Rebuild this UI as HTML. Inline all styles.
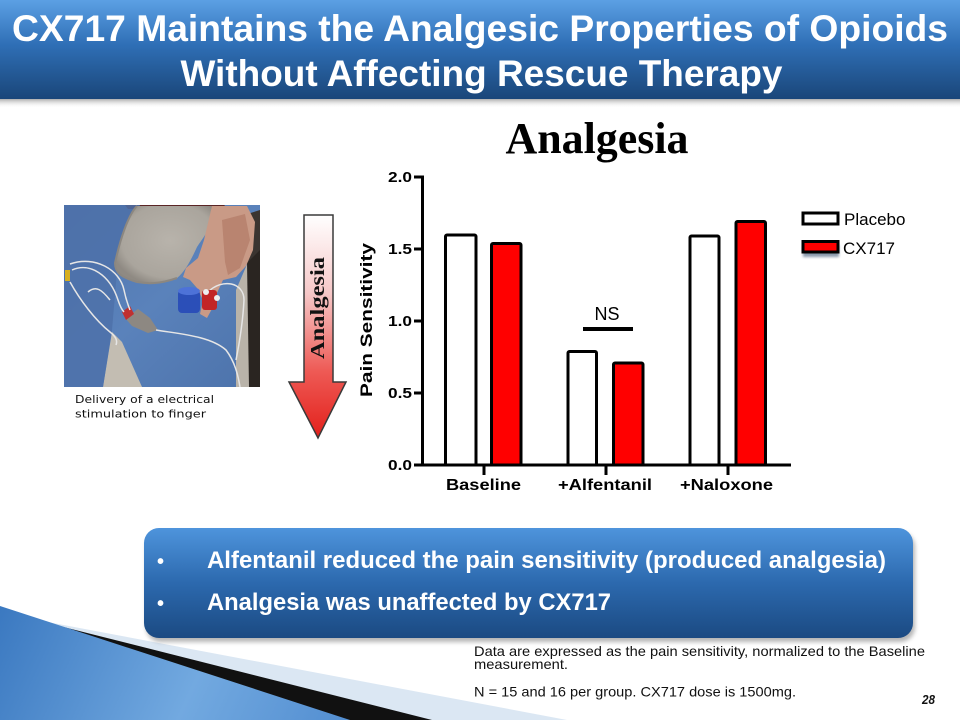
<!DOCTYPE html>
<html>
<head>
<meta charset="utf-8">
<style>
html,body{margin:0;padding:0;background:#fff;}
svg{display:block;}
</style>
</head>
<body>
<svg width="960" height="720" viewBox="0 0 960 720" xmlns="http://www.w3.org/2000/svg">
<defs>
  <linearGradient id="tbar" x1="0" y1="0" x2="0" y2="1">
    <stop offset="0" stop-color="#5ca0e4"/>
    <stop offset="0.45" stop-color="#2f6fb6"/>
    <stop offset="1" stop-color="#1a4679"/>
  </linearGradient>
  <linearGradient id="tshadow" x1="0" y1="0" x2="0" y2="1">
    <stop offset="0" stop-color="#9a9a9a" stop-opacity="0.8"/>
    <stop offset="1" stop-color="#ffffff" stop-opacity="0"/>
  </linearGradient>
  <linearGradient id="bbox" x1="0" y1="0" x2="0" y2="1">
    <stop offset="0" stop-color="#4e94dc"/>
    <stop offset="0.5" stop-color="#2c69ae"/>
    <stop offset="1" stop-color="#1b4a82"/>
  </linearGradient>
  <linearGradient id="deco" x1="0" y1="600" x2="350" y2="760" gradientUnits="userSpaceOnUse">
    <stop offset="0" stop-color="#3a78c0"/>
    <stop offset="0.55" stop-color="#72a9e0"/>
    <stop offset="1" stop-color="#4f8bcf"/>
  </linearGradient>
  <linearGradient id="arr" x1="0" y1="215" x2="0" y2="438" gradientUnits="userSpaceOnUse">
    <stop offset="0" stop-color="#ffffff"/>
    <stop offset="0.35" stop-color="#f6c8c8"/>
    <stop offset="0.7" stop-color="#ee5a55"/>
    <stop offset="1" stop-color="#e3201b"/>
  </linearGradient>
  <linearGradient id="denim" x1="0" y1="0" x2="1" y2="1">
    <stop offset="0" stop-color="#4f74ac"/>
    <stop offset="0.5" stop-color="#5a82bb"/>
    <stop offset="1" stop-color="#4c72aa"/>
  </linearGradient>
  <radialGradient id="padg" cx="0.55" cy="0.45" r="0.6">
    <stop offset="0" stop-color="#b8b3ab"/>
    <stop offset="0.8" stop-color="#aaa59d"/>
    <stop offset="1" stop-color="#8f8a83"/>
  </radialGradient>
  <filter id="blur2" x="-20%" y="-20%" width="140%" height="140%">
    <feGaussianBlur stdDeviation="2"/>
  </filter>
  <filter id="blur1" x="-20%" y="-50%" width="140%" height="200%">
    <feGaussianBlur stdDeviation="1.2"/>
  </filter>
  <clipPath id="photoclip"><rect x="64" y="205" width="196" height="182"/></clipPath>
</defs>

<!-- Title bar -->
<rect x="0" y="99" width="960" height="9" fill="url(#tshadow)"/>
<rect x="0" y="0" width="960" height="99" fill="url(#tbar)"/>
<text x="480" y="41" text-anchor="middle" font-family="Liberation Sans, Arial, sans-serif" font-weight="bold" font-size="37" fill="#ffffff" textLength="936" lengthAdjust="spacingAndGlyphs">CX717 Maintains the Analgesic Properties of Opioids</text>
<text x="481.5" y="86" text-anchor="middle" font-family="Liberation Sans, Arial, sans-serif" font-weight="bold" font-size="37" fill="#ffffff" textLength="602" lengthAdjust="spacingAndGlyphs">Without Affecting Rescue Therapy</text>

<!-- Bottom-left decoration -->
<polygon points="0,613 567,720 0,720" fill="#dbe7f3"/>
<polygon points="0,611 432,720 0,720" fill="#111111"/>
<polygon points="0,606 350,720 0,720" fill="url(#deco)"/>

<!-- Photo approximation -->
<g clip-path="url(#photoclip)">
  <rect x="64" y="205" width="196" height="182" fill="url(#denim)"/>
  <!-- top dark strip -->
  <polygon points="125,205 225,205 222,209 128,209" fill="#5a2525"/>
  <!-- right side: chair + dark -->
  <polygon points="236,290 248,262 260,255 260,387 236,387" fill="#b9b3a9"/>
  <polygon points="247,262 260,240 260,387 249,387" fill="#2a2521"/>
  <polygon points="244,215 260,210 260,250 248,262" fill="#3a3430"/>
  <!-- beige wedge between legs -->
  <polygon points="112,332 122,342 142,387 103,387" fill="#c3bdb2"/>
  <!-- left leg darker shading -->
  <polygon points="64,205 140,205 118,260 112,330 103,387 64,387" fill="#4d71a9" opacity="0.85"/>
  <!-- pad -->
  <path d="M137,206 C128,215 120,240 115,263 C115,272 120,277 137,282 C148,284 160,284 177,278 C185,272 192,258 197,247 C203,238 209,230 210,226 C214,218 215,212 215,206 Z" fill="url(#padg)"/>
  <path d="M137,206 C128,215 120,240 115,263 C115,272 120,277 137,282 C148,284 160,284 177,278" fill="none" stroke="#8c8780" stroke-width="2"/>
  <!-- hand -->
  <path d="M212,206 L247,206 L255,222 L253,250 L246,266 L236,277 L223,280 L217,293 L213,307 L207,318 L200,314 L203,300 L197,288 L190,280 L183,277 L186,268 L198,258 L204,240 Z" fill="#c99a86"/>
  <path d="M222,220 L245,214 L250,240 L240,268 L228,275 L225,262 Z" fill="#b98470"/>
  <!-- connector -->
  <polygon points="125,318 138,309 150,318 158,330 148,333 132,326" fill="#8d8882"/>
  <polygon points="122,312 130,306 134,314 126,320" fill="#c03030"/>
  <!-- wires -->
  <g stroke="#e6e6e6" stroke-width="1.5" fill="none">
    <path d="M70,264 C95,255 120,270 124,290 C126,300 128,305 130,310"/>
    <path d="M72,270 C90,262 110,275 118,300 C120,306 122,310 124,312"/>
    <path d="M70,282 C80,300 95,320 110,332 C115,336 118,340 116,345"/>
    <path d="M156,330 C180,334 210,336 226,350 C235,362 238,375 240,387"/>
    <path d="M208,292 C222,278 244,282 244,300 C243,320 240,340 236,360"/>
    <path d="M88,292 C96,285 102,290 110,300"/>
  </g>
  <rect x="65" y="270" width="5" height="11" fill="#d8b020"/>
  <!-- blue cylinder -->
  <rect x="178" y="290" width="22" height="23" rx="4" fill="#2b4fb8"/>
  <ellipse cx="189" cy="291" rx="11" ry="4" fill="#4d72d8"/>
  <!-- red clip -->
  <rect x="202" y="290" width="15" height="20" rx="3" fill="#c22525"/>
  <circle cx="206" cy="292" r="3" fill="#eeeeee"/>
  <circle cx="217" cy="298" r="3" fill="#eeeeee"/>
</g>
<text x="75" y="403" font-family="DejaVu Sans, Liberation Sans, sans-serif" font-size="11" fill="#111" textLength="139" lengthAdjust="spacingAndGlyphs">Delivery  of a electrical</text>
<text x="75" y="417.5" font-family="DejaVu Sans, Liberation Sans, sans-serif" font-size="11" fill="#111" textLength="131" lengthAdjust="spacingAndGlyphs">stimulation to finger</text>

<!-- Big arrow -->
<path d="M304,215 L333,215 L333,382 L346,382 L318,438 L289,382 L304,382 Z" fill="url(#arr)" stroke="#3a3a3a" stroke-width="1.5" stroke-linejoin="miter"/>
<text transform="translate(324,308) rotate(-90)" text-anchor="middle" font-family="Liberation Serif, Times New Roman, serif" font-weight="bold" font-size="20" fill="#111" textLength="102" lengthAdjust="spacingAndGlyphs">Analgesia</text>

<!-- Chart title -->
<text x="597" y="153" text-anchor="middle" font-family="Liberation Serif, Times New Roman, serif" font-weight="bold" font-size="44" fill="#000" textLength="183" lengthAdjust="spacingAndGlyphs">Analgesia</text>

<!-- Bars -->
<g stroke="#000" stroke-width="3" stroke-linejoin="round">
  <rect x="445.5" y="235" width="30.5" height="230" rx="1.5" fill="#ffffff"/>
  <rect x="491.5" y="243.5" width="29.5" height="221.5" rx="1.5" fill="#ff0000"/>
  <rect x="568" y="351.5" width="28.5" height="113.5" rx="1.5" fill="#ffffff"/>
  <rect x="613.5" y="363" width="29.5" height="102" rx="1.5" fill="#ff0000"/>
  <rect x="690" y="236" width="29" height="229" rx="1.5" fill="#ffffff"/>
  <rect x="736" y="221.5" width="29.5" height="243.5" rx="1.5" fill="#ff0000"/>
</g>

<!-- Axes -->
<g stroke="#000" stroke-width="3" fill="none">
  <line x1="422.5" y1="175.5" x2="422.5" y2="466.5"/>
  <line x1="421" y1="465" x2="791" y2="465"/>
  <line x1="414" y1="177" x2="422" y2="177"/>
  <line x1="414" y1="249" x2="422" y2="249"/>
  <line x1="414" y1="321" x2="422" y2="321"/>
  <line x1="414" y1="393" x2="422" y2="393"/>
  <line x1="414" y1="465" x2="422" y2="465"/>
  <line x1="484" y1="465" x2="484" y2="475"/>
  <line x1="606" y1="465" x2="606" y2="475"/>
  <line x1="728" y1="465" x2="728" y2="475"/>
</g>
<g font-family="Liberation Sans, Arial, sans-serif" font-weight="bold" font-size="15" fill="#000" text-anchor="end">
  <text x="412" y="182" textLength="24" lengthAdjust="spacingAndGlyphs">2.0</text>
  <text x="412" y="254" textLength="24" lengthAdjust="spacingAndGlyphs">1.5</text>
  <text x="412" y="326" textLength="24" lengthAdjust="spacingAndGlyphs">1.0</text>
  <text x="412" y="398" textLength="24" lengthAdjust="spacingAndGlyphs">0.5</text>
  <text x="412" y="470" textLength="24" lengthAdjust="spacingAndGlyphs">0.0</text>
</g>
<g font-family="Liberation Sans, Arial, sans-serif" font-weight="bold" font-size="16" fill="#000">
  <text x="446" y="490" textLength="75" lengthAdjust="spacingAndGlyphs">Baseline</text>
  <text x="558" y="490" textLength="94" lengthAdjust="spacingAndGlyphs">+Alfentanil</text>
  <text x="680" y="490" textLength="93" lengthAdjust="spacingAndGlyphs">+Naloxone</text>
</g>
<text transform="translate(372,320) rotate(-90)" text-anchor="middle" font-family="Liberation Sans, Arial, sans-serif" font-weight="bold" font-size="17" fill="#000" textLength="154" lengthAdjust="spacingAndGlyphs">Pain Sensitivity</text>

<!-- NS -->
<text x="607" y="320" text-anchor="middle" font-family="Liberation Sans, Arial, sans-serif" font-size="18" fill="#000">NS</text>
<line x1="583" y1="329" x2="633" y2="329" stroke="#000" stroke-width="4"/>

<!-- Legend -->
<rect x="803" y="213" width="35" height="11" fill="#ffffff" stroke="#000" stroke-width="3"/>
<rect x="803" y="245" width="36" height="12" fill="#5a6f8a" opacity="0.7" filter="url(#blur1)"/>
<rect x="803" y="241.5" width="35" height="10.5" fill="#ff0000" stroke="#000" stroke-width="3"/>
<text x="844" y="225" font-family="Liberation Sans, Arial, sans-serif" font-size="17" fill="#000">Placebo</text>
<text x="843" y="254" font-family="Liberation Sans, Arial, sans-serif" font-size="17" fill="#000">CX717</text>

<!-- Bullet box -->
<rect x="146" y="532" width="769" height="110" rx="15" fill="#7a7a7a" opacity="0.55" filter="url(#blur2)"/>
<rect x="144" y="528" width="769" height="110" rx="15" fill="url(#bbox)"/>
<g font-family="Liberation Sans, Arial, sans-serif" font-weight="bold" font-size="24" fill="#ffffff">
  <text x="157" y="568" font-size="20">•</text>
  <text x="207" y="568" textLength="679" lengthAdjust="spacingAndGlyphs">Alfentanil reduced the pain sensitivity (produced analgesia)</text>
  <text x="157" y="610" font-size="20">•</text>
  <text x="207" y="610" textLength="404" lengthAdjust="spacingAndGlyphs">Analgesia was unaffected by CX717</text>
</g>

<!-- Footnotes -->
<g font-family="Liberation Sans, Arial, sans-serif" font-size="14" fill="#111">
  <text x="474" y="656" textLength="451" lengthAdjust="spacingAndGlyphs">Data are expressed as the pain sensitivity, normalized to the Baseline</text>
  <text x="474" y="669" textLength="94" lengthAdjust="spacingAndGlyphs">measurement.</text>
  <text x="474" y="696.5" textLength="322" lengthAdjust="spacingAndGlyphs">N = 15 and 16 per group. CX717 dose is 1500mg.</text>
</g>
<text x="922" y="704" font-family="Liberation Sans, Arial, sans-serif" font-weight="bold" font-style="italic" font-size="13" fill="#111" textLength="13" lengthAdjust="spacingAndGlyphs">28</text>
</svg>
</body>
</html>
